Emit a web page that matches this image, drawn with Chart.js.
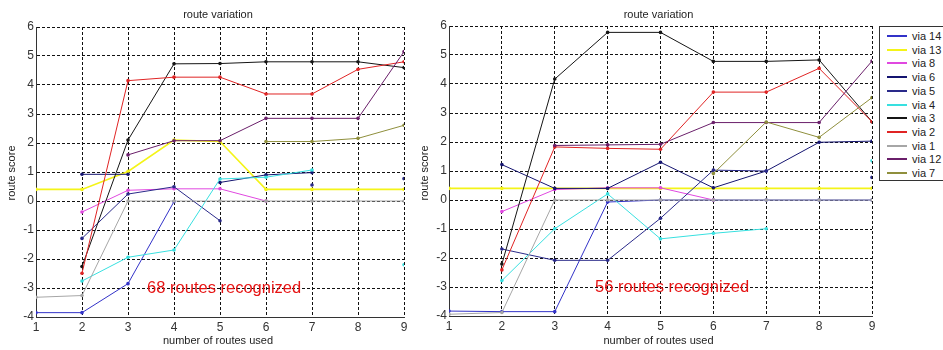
<!DOCTYPE html>
<html>
<head>
<meta charset="utf-8">
<script src="https://cdn.jsdelivr.net/npm/chart.js@4/dist/chart.umd.min.js"></script>
<style>
  html,body{margin:0;padding:0;background:#fff;}
  body{width:943px;height:350px;position:relative;overflow:hidden;font-family:"Liberation Sans",Arial,sans-serif;}
  #c1{position:absolute;left:0;top:0;}
  #c2{position:absolute;left:412px;top:0;}
  #legend{position:absolute;left:879px;top:26px;width:66px;height:155px;border:1px solid #333;background:#fff;box-sizing:border-box;}
  .row{position:absolute;left:0;height:14px;width:64px;}
  .row .ln{position:absolute;left:7px;top:6px;width:20px;height:2px;background:#000;}
  .row .tx{position:absolute;left:32px;top:0;font-size:11px;line-height:14px;color:#222;white-space:nowrap;}
</style>
</head>
<body>
<canvas id="c1" width="420" height="350"></canvas>
<canvas id="c2" width="531" height="350"></canvas>
<div id="legend"></div>
<script>
// ---------- data ----------
const routesUsed = [1, 2, 3, 4, 5, 6, 7, 8, 9];
const seriesNames = ['via 14', 'via 13', 'via 8', 'via 6', 'via 5', 'via 4', 'via 3', 'via 2', 'via 1', 'via 12', 'via 7'];
const yTicks = [-4, -3, -2, -1, 0, 1, 2, 3, 4, 5, 6];

// left panel: 68 routes recognized
const leftVia14 = [-3.85, -3.85, -2.85, -0.02, null, null, null, null, null];
const leftVia13 = [0.4, 0.4, 1.02, 2.1, 2.05, 0.4, 0.4, 0.4, 0.4];
const leftVia8  = [null, -0.38, 0.37, 0.42, 0.42, 0.0, null, null, null];
const leftVia6  = [null, 0.92, 0.92, null, 0.64, 0.9, 0.98, null, null];
const leftVia5  = [null, -1.29, 0.24, 0.49, -0.68, null, 0.55, null, 0.77];
const leftVia4  = [null, -2.76, -1.94, -1.69, 0.76, 0.82, 1.07, null, -2.2];
const leftVia3  = [null, -2.26, 2.1, 4.73, 4.74, 4.8, 4.8, 4.8, 4.6];
const leftVia2  = [null, -2.49, 4.15, 4.27, 4.27, 3.69, 3.69, 4.54, 4.8];
const leftVia1  = [-3.32, -3.26, 0, 0, 0, 0, 0, 0, 0];
const leftVia12 = [null, null, 1.59, 2.08, 2.08, 2.85, 2.85, 2.85, 5.15];
const leftVia7  = [null, null, null, null, null, 2.05, 2.05, 2.16, 2.61];

// right panel: 56 routes recognized
const rightVia14 = [-3.83, -3.85, -3.85, -0.07, 0, 0, 0, 0, 0];
const rightVia13 = [0.4, 0.4, 0.4, 0.4, 0.4, 0.4, 0.4, 0.4, 0.4];
const rightVia8  = [null, -0.4, 0.36, 0.42, 0.42, 0.0, null, null, null];
const rightVia6  = [null, 1.22, 0.4, 0.4, 1.3, 0.42, 1.0, 1.99, 2.03];
const rightVia5  = [null, -1.69, -2.08, -2.08, -0.63, 1.03, 1.0, null, 0.78];
const rightVia4  = [null, -2.78, -0.99, 0.21, -1.34, -1.15, -0.99, null, 1.35];
const rightVia3  = [null, -2.21, 4.17, 5.78, 5.78, 4.78, 4.78, 4.83, 2.7];
const rightVia2  = [null, -2.41, 1.83, 1.78, 1.75, 3.72, 3.72, 4.54, 2.7];
const rightVia1  = [-3.94, -3.88, 0, 0, 0, 0, 0, 0, 0];
const rightVia12 = [null, null, 1.88, 1.9, 1.92, 2.67, 2.67, 2.67, 4.79];
const rightVia7  = [null, null, null, null, null, 0.91, 2.69, 2.16, 3.53];

const leftNote = '68 routes recognized';
const rightNote = '56 routes recognized';

// ---------- styling ----------
const seriesColors = ['#3232c8', '#f4f418', '#e048e0', '#141470', '#2a2a8a', '#38e0e0',
                      '#151515', '#e02424', '#a6a6a6', '#6a1f6a', '#8f8f3c'];
const FONT = '"Liberation Sans", Arial, sans-serif';

function buildDatasets(seriesList) {
  return seriesList.map((vals, i) => ({
    label: seriesNames[i],
    data: routesUsed.map((x, k) => ({ x: x, y: vals[k] })),
    borderColor: seriesColors[i],
    backgroundColor: seriesColors[i],
    borderWidth: i === 1 ? 1.6 : 1,
    pointRadius: 1.8,
    pointBorderWidth: 0,
    pointHoverRadius: 2,
    spanGaps: false,
    tension: 0,
    order: seriesList.length - i
  }));
}

function textPlugin(note, noteX, noteY, yLabelX) {
  return {
    id: 'texts',
    afterDatasetsDraw(chart) {
      const ctx = chart.ctx;
      const a = chart.chartArea;
      const cx = (a.left + a.right) / 2;
      ctx.save();
      ctx.fillStyle = '#222';
      ctx.font = '11px ' + FONT;
      ctx.textAlign = 'center';
      ctx.textBaseline = 'middle';
      ctx.fillText('route variation', cx - 2, 15);
      ctx.fillText('number of routes used', cx - 2, 341);
      ctx.save();
      ctx.translate(yLabelX, 173);
      ctx.rotate(-Math.PI / 2);
      ctx.fillText('route score', 0, 0);
      ctx.restore();
      const xs = chart.scales.x, ys = chart.scales.y;
      ctx.fillStyle = '#e61414';
      ctx.font = '16.5px ' + FONT;
      ctx.fillText(note, xs.getPixelForValue(noteX), ys.getPixelForValue(noteY));
      ctx.restore();
    }
  };
}

function makeChart(canvasId, seriesList, yAxisWidth, padTop, padRight, xAxisHeight, note, noteX, noteY, yLabelX) {
  return new Chart(document.getElementById(canvasId), {
    type: 'line',
    data: { datasets: buildDatasets(seriesList) },
    options: {
      responsive: false,
      animation: false,
      events: [],
      layout: { padding: { left: 0, top: padTop, right: padRight, bottom: 0 } },
      plugins: { legend: { display: false }, tooltip: { enabled: false }, title: { display: false } },
      scales: {
        x: {
          type: 'linear', min: 1, max: 9,
          afterBuildTicks: s => { s.ticks = routesUsed.map(v => ({ value: v })); },
          ticks: { color: '#333', font: { family: FONT, size: 12 }, padding: 3, maxRotation: 0 },
          grid: { color: '#111', lineWidth: 1, drawTicks: false },
          border: { display: true, color: '#333', width: 1, dash: [3, 2] },
          afterFit: s => { s.height = xAxisHeight; }
        },
        y: {
          type: 'linear', min: -4, max: 6,
          afterBuildTicks: s => { s.ticks = yTicks.map(v => ({ value: v })); },
          ticks: { color: '#333', font: { family: FONT, size: 12 }, padding: 2 },
          grid: { color: '#111', lineWidth: 1, drawTicks: false },
          border: { display: true, color: '#333', width: 1, dash: [3, 2] },
          afterFit: s => { s.width = yAxisWidth; }
        }
      }
    },
    plugins: [textPlugin(note, noteX, noteY, yLabelX)]
  });
}

makeChart('c1',
  [leftVia14, leftVia13, leftVia8, leftVia6, leftVia5, leftVia4, leftVia3, leftVia2, leftVia1, leftVia12, leftVia7],
  36, 27, 16, 33, leftNote, 5.09, -3.03, 12);
makeChart('c2',
  [rightVia14, rightVia13, rightVia8, rightVia6, rightVia5, rightVia4, rightVia3, rightVia2, rightVia1, rightVia12, rightVia7],
  37, 26, 71, 34, rightNote, 5.22, -3.03, 13);

// legend
const legend = document.getElementById('legend');
seriesNames.forEach((name, i) => {
  const row = document.createElement('div');
  row.className = 'row';
  row.style.top = (2 + i * 13.7) + 'px';
  const ln = document.createElement('div');
  ln.className = 'ln';
  ln.style.background = seriesColors[i];
  const tx = document.createElement('div');
  tx.className = 'tx';
  tx.textContent = name;
  row.appendChild(ln); row.appendChild(tx);
  legend.appendChild(row);
});
</script>
</body>
</html>
